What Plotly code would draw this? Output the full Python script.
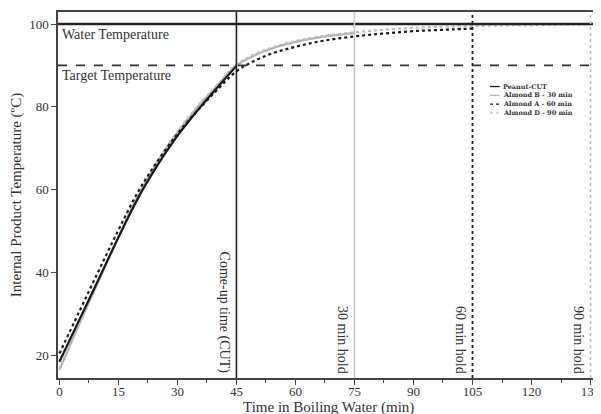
import plotly.graph_objects as go

# ---- data ----
t_peanut = [0, 5, 10, 15, 20, 25, 30, 35, 40, 45]
peanut_cut = [18.5, 28.5, 38.5, 48.5, 58.0, 66.0, 73.0, 79.0, 84.5, 89.9]

t_almond_b = [0, 5, 10, 15, 20, 25, 30, 35, 40, 45, 50, 55, 60, 65, 70, 75]
almond_b = [16.5, 27.5, 38.0, 48.5, 58.5, 66.8, 73.8, 79.8, 85.0, 90.0, 92.6,
            94.4, 95.7, 96.6, 97.3, 97.8]

t_almond_a = [0, 5, 10, 15, 20, 25, 30, 35, 40, 45, 50, 55, 60, 65, 70, 75,
              80, 85, 90, 95, 100, 105]
almond_a = [20.5, 30.5, 40.5, 50.3, 59.5, 67.0, 73.5, 79.0, 84.0, 88.6, 91.3,
            93.2, 94.5, 95.6, 96.4, 97.0, 97.5, 97.9, 98.3, 98.5, 98.7, 98.9]

t_almond_d = [0, 5, 10, 15, 20, 25, 30, 35, 40, 45, 50, 55, 60, 65, 70, 75,
              80, 85, 90, 95, 100, 105, 110, 115, 120, 125, 130, 135]
almond_d = [16.8, 27.7, 38.2, 48.7, 58.7, 67.0, 74.0, 80.0, 85.2, 90.2, 92.8,
            94.6, 95.9, 96.8, 97.5, 98.0, 98.4, 98.8, 99.1, 99.3, 99.4, 99.5,
            99.6, 99.7, 99.75, 99.8, 99.85, 99.9]

series_names = ["Peanut-CUT", "Almond B - 30 min", "Almond A - 60 min", "Almond D - 90 min"]

water_temp = 100
target_temp = 90
hold_times = [45, 75, 105, 135]
hold_labels = ["Come-up time (CUT)", "30 min hold", "60 min hold", "90 min hold"]

x_ticks = [0, 15, 30, 45, 60, 75, 90, 105, 120, 135]
y_ticks = [20, 40, 60, 80, 100]

x_title = "Time in Boiling Water (min)"
y_title = "Internal Product Temperature (ºC)"

FONT = "Liberation Serif"
GRAY = "#b3b3b3"

styles = {
    "Peanut-CUT": dict(color="#1a1a1a", width=2.2, dash="solid"),
    "Almond B - 30 min": dict(color=GRAY, width=2.2, dash="solid"),
    "Almond A - 60 min": dict(color="#1a1a1a", width=2.2, dash="dot"),
    "Almond D - 90 min": dict(color="#bdbdbd", width=2.2, dash="dot"),
}

fig = go.Figure()
data = {
    "Almond B - 30 min": (t_almond_b, almond_b),
    "Almond D - 90 min": (t_almond_d, almond_d),
    "Peanut-CUT": (t_peanut, peanut_cut),
    "Almond A - 60 min": (t_almond_a, almond_a),
}
for name, (xs, ys) in data.items():
    fig.add_trace(go.Scatter(x=xs, y=ys, mode="lines", name=name,
                             line=dict(shape="spline", **styles[name]),
                             showlegend=False))

# reference lines
fig.add_shape(type="line", xref="paper", yref="y", x0=0, x1=1, y0=water_temp, y1=water_temp,
              line=dict(color="#222", width=2.5))
fig.add_shape(type="line", xref="paper", yref="y", x0=0, x1=1, y0=target_temp, y1=target_temp,
              line=dict(color="#333", width=1.8, dash="dash"))
vstyles = [dict(color="#222", width=1.6),
           dict(color="#c8c8c8", width=1.6),
           dict(color="#222", width=1.8, dash="dot"),
           dict(color="#bbbbbb", width=1.6, dash="dot")]
for xv, st in zip(hold_times, vstyles):
    fig.add_shape(type="line", xref="x", yref="paper", x0=xv, x1=xv, y0=0, y1=1, line=st)

for xv, lab in zip(hold_times, hold_labels):
    fig.add_annotation(x=xv, y=0, xref="x", yref="paper", text=lab, textangle=90,
                       showarrow=False, xanchor="right", yanchor="bottom",
                       xshift=-2, yshift=2, font=dict(family=FONT, size=14, color="#333"))

fig.add_annotation(x=0, y=water_temp, xref="paper", yref="y", text="Water Temperature",
                   showarrow=False, xanchor="left", yanchor="top", xshift=2, yshift=-1,
                   font=dict(family=FONT, size=14, color="#333"))
fig.add_annotation(x=0, y=target_temp, xref="paper", yref="y", text="Target Temperature",
                   showarrow=False, xanchor="left", yanchor="top", xshift=2, yshift=-1,
                   font=dict(family=FONT, size=14, color="#333"))

# x-axis title placed just under the tick labels
fig.add_annotation(x=0.5, y=0, xref="paper", yref="paper", text=x_title, showarrow=False,
                   xanchor="center", yanchor="top", yshift=-19,
                   font=dict(family=FONT, size=15, color="#333"))

# compact legend (drawn in paper space)
leg_x0, leg_x1 = 0.8, 0.818
leg_y = [0.7964, 0.7724, 0.7484, 0.7243]
for name, ly in zip(series_names, leg_y):
    st = styles[name]
    fig.add_shape(type="line", xref="paper", yref="paper", x0=leg_x0, x1=leg_x1, y0=ly, y1=ly,
                  line=dict(color=st["color"], width=1.3, dash=st["dash"]))
    fig.add_annotation(x=leg_x1, y=ly, xref="paper", yref="paper", text=name, showarrow=False,
                       xanchor="left", yanchor="middle", xshift=1,
                       font=dict(family="DejaVu Serif", size=6.5, color="#333", weight="bold"))

# the page body adds an 8px offset, so the figure is sized to fit the window from there
fig.update_layout(
    width=593, height=406,
    margin=dict(l=50, r=1, t=4, b=36),
    paper_bgcolor="white", plot_bgcolor="white",
    font=dict(family=FONT, size=13, color="#333"),
    showlegend=False,
)
fig.update_xaxes(range=[-0.35, 136.9], tickvals=x_ticks, ticks="outside", ticklen=5,
                 tickcolor="#444", showgrid=False, zeroline=False, showline=True,
                 linecolor="#444", linewidth=1.5, mirror=True, ticklabelstandoff=-4,
                 minor=dict(dtick=7.5, tick0=0, ticks="outside", ticklen=3, tickcolor="#444"),
                 tickfont=dict(family=FONT, size=13, color="#333"))
fig.update_yaxes(range=[14.6, 102.9], tickvals=y_ticks, ticks="outside", ticklen=5,
                 tickcolor="#444", showgrid=False, zeroline=False, showline=True,
                 linecolor="#444", linewidth=1.5, mirror=True,
                 title=dict(text=y_title, standoff=8,
                            font=dict(family=FONT, size=15, color="#333")),
                 tickfont=dict(family=FONT, size=13, color="#333"))

fig.write_html("out.html")
